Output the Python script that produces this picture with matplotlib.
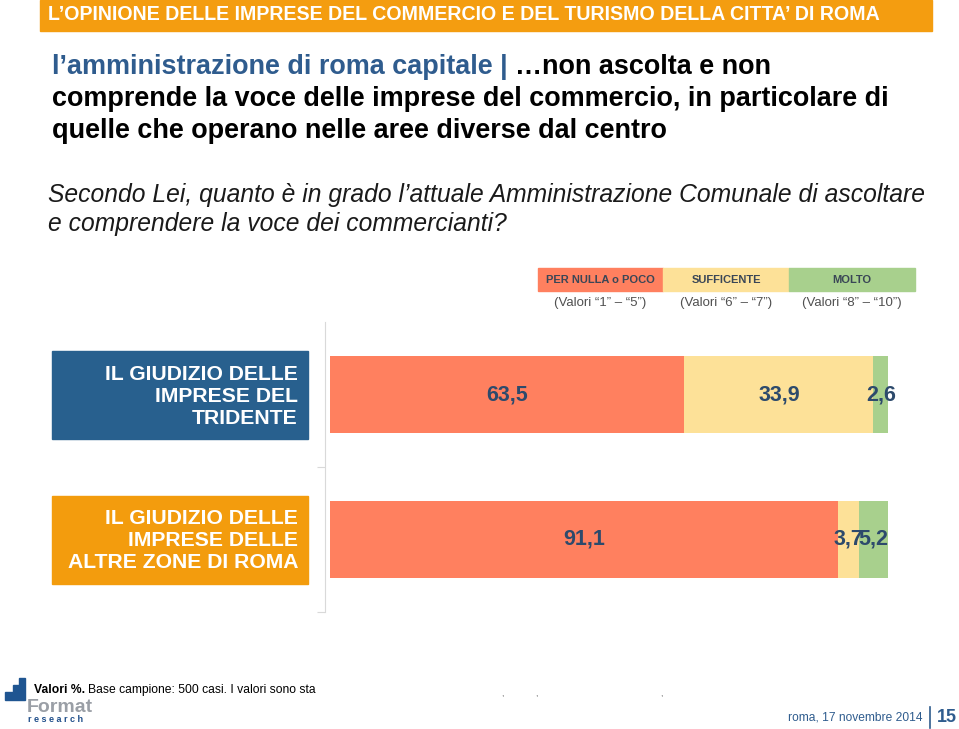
import matplotlib.pyplot as plt
from matplotlib.patches import Rectangle, Polygon

# data
groups = ['IL GIUDIZIO DELLE\nIMPRESE DEL\nTRIDENTE',
          'IL GIUDIZIO DELLE\nIMPRESE DELLE\nALTRE ZONE DI ROMA']
categories = ['PER NULLA o POCO', 'SUFFICENTE', 'MOLTO']
ranges = ['(Valori \u201c1\u201d \u2013 \u201c5\u201d)',
          '(Valori \u201c6\u201d \u2013 \u201c7\u201d)',
          '(Valori \u201c8\u201d \u2013 \u201c10\u201d)']
poco = [63.5, 91.1]
sufficiente = [33.9, 3.7]
molto = [2.6, 5.2]

colors = ['#FF805F', '#FDE198', '#A8D08D']
group_colors = ['#28608E', '#F39C0D']
navy = '#2D4A6C'

W, H = 959, 729
fig = plt.figure(figsize=(W / 100, H / 100), dpi=100)
fig.patch.set_facecolor('white')
plt.rcParams['font.family'] = ['Liberation Sans', 'DejaVu Sans']
renderer = fig.canvas.get_renderer()


def px(x, y):
    return x / W, 1 - y / H


def box(x0, y0, x1, y1, color):
    fig.patches.append(Rectangle(px(x0, y1), (x1 - x0) / W, (y1 - y0) / H,
                                 transform=fig.transFigure, color=color, zorder=0))


def fit(t, width):
    # scale the font so the text spans the width seen in the picture
    w = t.get_window_extent(renderer).width
    t.set_fontsize(t.get_fontsize() * width / w)
    return t


# header band
box(40, 0, 932, 31, '#F49D10')
fit(fig.text(*px(464, 15), "L\u2019OPINIONE DELLE IMPRESE DEL COMMERCIO E DEL TURISMO DELLA CITTA\u2019 DI ROMA",
             ha='center', va='center', color='white', fontsize=12, fontweight='bold'), 833)

# headline
l2 = fit(fig.text(*px(52, 99), "comprende la voce delle imprese del commercio, in particolare di",
                  ha='left', va='center', fontsize=19, fontweight='bold'), 839)
hs = l2.get_fontsize()
t = fig.text(*px(52, 67), "l\u2019amministrazione di roma capitale | ", ha='left', va='center',
             color='#2F5C8E', fontsize=hs, fontweight='bold')
bb = t.get_window_extent(renderer)
fig.text(bb.x1 / W, 1 - 67 / H, "\u2026non ascolta e non", ha='left', va='center',
         color='black', fontsize=hs, fontweight='bold')
fig.text(*px(52, 131), "quelle che operano nelle aree diverse dal centro",
         ha='left', va='center', fontsize=hs, fontweight='bold')

# question
q = fit(fig.text(*px(48, 195), "Secondo Lei, quanto \u00e8 in grado l\u2019attuale Amministrazione Comunale di ascoltare",
                 ha='left', va='center', fontsize=17, style='italic', color='#1a1a1a'), 873)
fig.text(*px(48, 224), "e comprendere la voce dei commercianti?",
         ha='left', va='center', fontsize=q.get_fontsize(), style='italic', color='#1a1a1a')

# legend boxes
lx = [538, 663, 789, 915]
for i, (cat, rng) in enumerate(zip(categories, ranges)):
    box(lx[i], 268, lx[i + 1], 291, colors[i])
    fig.text(*px((lx[i] + lx[i + 1]) / 2, 280), cat, ha='center', va='center',
             fontsize=8, fontweight='bold', color='#3A4656')
    fig.text(*px((lx[i] + lx[i + 1]) / 2, 303), rng, ha='center', va='center',
             fontsize=9.5, color='#505050')

# group label boxes
gy = [(351, 439), (496, 584)]
for (y0, y1), lab, c in zip(gy, groups, group_colors):
    box(52, y0, 308, y1, c)
    fig.text(*px(298, (y0 + y1) / 2 + 1), lab, ha='right', va='center', color='white',
             fontsize=15.2, fontweight='bold', linespacing=1.2)

# bar chart
ax = fig.add_axes([325 / W, (H - 612) / H, 563 / W, 290 / H])
ypos = [0.5, 1.5]
h = 0.53
left = [0, 0]
for vals, c in zip([poco, sufficiente, molto], colors):
    ax.barh(ypos, vals, left=left, height=h, color=c, edgecolor='none')
    for y, v, l in zip(ypos, vals, left):
        ax.text(l + v / 2, y, f"{v:.1f}".replace('.', ','), ha='center', va='center',
                fontsize=15.5, fontweight='bold', color=navy)
    left = [a + b for a, b in zip(left, vals)]

ax.set_xlim(-0.9, 100)
ax.set_ylim(2, 0)
for s in ['top', 'right', 'bottom']:
    ax.spines[s].set_visible(False)
ax.spines['left'].set_color('#D9D9D9')
ax.set_xticks([])
ax.set_yticks([1, 2])
ax.set_yticklabels([])
ax.tick_params(axis='y', length=6, color='#D9D9D9', direction='out')
ax.patch.set_alpha(0)

# footer logo
fig.patches.append(Polygon([px(5, 700), px(5, 692), px(13, 692), px(13, 685),
                            px(19, 685), px(19, 678), px(25, 678), px(25, 700)],
                           closed=True, transform=fig.transFigure, color='#1F5591'))
v = fig.text(*px(34, 690), "Valori %.", ha='left', va='center', fontsize=8.7,
             fontweight='bold')
vb = v.get_window_extent(renderer)
fig.text(vb.x1 / W + 3 / W, 1 - 690 / H, "Base campione: 500 casi. I valori sono sta",
         ha='left', va='center', fontsize=8.7)
for x in [502, 536, 661]:
    fig.text(*px(x, 695), ",", ha='center', va='center', fontsize=6, color='#555555')
fig.text(*px(27, 707), "Format", ha='left', va='center', fontsize=14, fontweight='bold',
         color='#9A9FA6')
fig.text(*px(28, 719), "r e s e a r c h", ha='left', va='center', fontsize=6.5,
         fontweight='bold', color='#1F4E8A')
fit(fig.text(*px(923, 718), "roma, 17 novembre 2014", ha='right', va='center', fontsize=10,
             color='#2F5C8E'), 135)
fig.lines.append(plt.Line2D([930 / W, 930 / W], [1 - 707 / H, 1 - 728 / H],
                            transform=fig.transFigure, color='#2F5C8E', lw=1.2))
fig.text(*px(947, 717), "15", ha='center', va='center', fontsize=13, fontweight='bold',
         color='#2F5C8E')

fig.savefig('out.png', dpi=100)
